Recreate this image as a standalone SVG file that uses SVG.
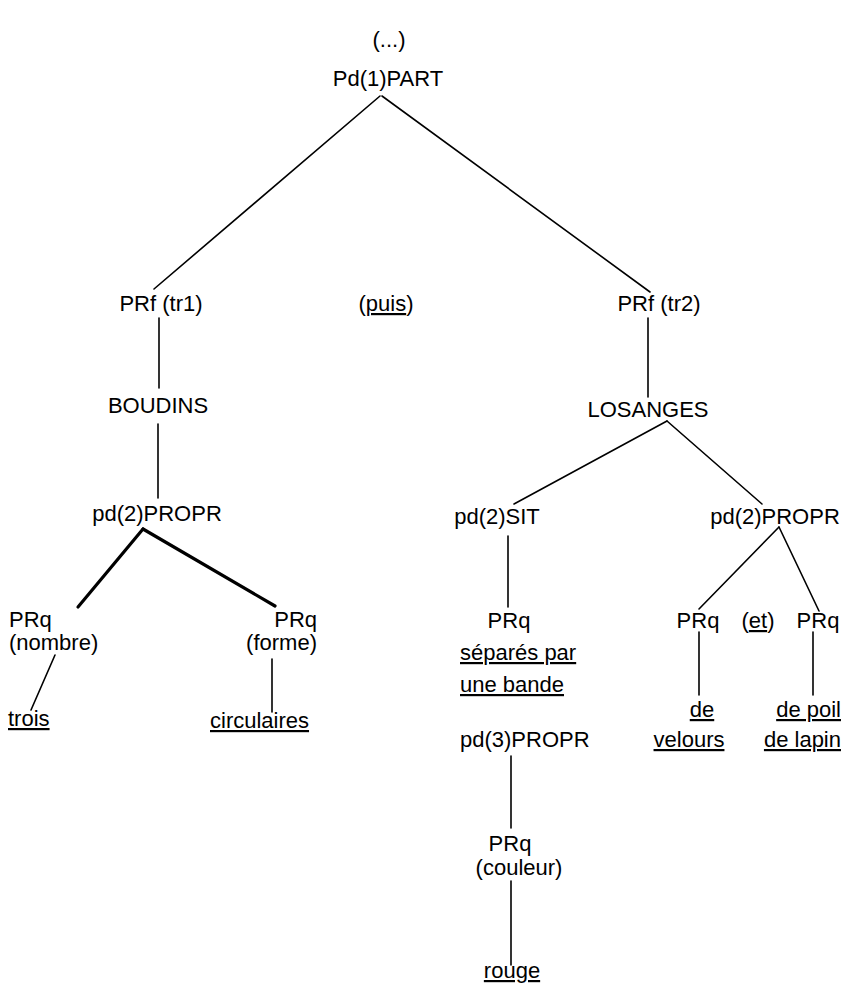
<svg xmlns="http://www.w3.org/2000/svg" width="843" height="985" viewBox="0 0 843 985">
<style>
text{font-family:"Liberation Sans",Arial,sans-serif;font-size:22px;fill:#000}
.m{text-anchor:middle}
.e{text-anchor:end}
.u{text-decoration:underline}
.c line{stroke:#000;stroke-width:1.6;stroke-linecap:round}
.c line.b{stroke-width:3.2}
</style>
<rect width="843" height="985" fill="#fff"/>
<g class="c" id="connectors">
<line x1="380" y1="96" x2="154" y2="289"/>
<line x1="382" y1="96" x2="650" y2="292"/>
<line x1="159" y1="318" x2="159" y2="388"/>
<line x1="158" y1="424" x2="158" y2="498"/>
<line class="b" x1="143" y1="529" x2="78" y2="607"/>
<line class="b" x1="143" y1="529" x2="275" y2="606"/>
<line x1="55" y1="655" x2="31" y2="710"/>
<line x1="272" y1="659" x2="272" y2="712"/>
<line x1="648" y1="318" x2="648" y2="397"/>
<line x1="667" y1="421" x2="514" y2="504"/>
<line x1="667" y1="421" x2="762" y2="504"/>
<line x1="508" y1="536" x2="508" y2="607"/>
<line x1="779" y1="527" x2="699" y2="609"/>
<line x1="779" y1="527" x2="819" y2="611"/>
<line x1="699" y1="632" x2="699" y2="695"/>
<line x1="813" y1="632" x2="813" y2="695"/>
<line x1="511" y1="756" x2="511" y2="828"/>
<line x1="511" y1="881" x2="511" y2="965"/>
</g>
<g id="ellipsis"><text class="m" x="389" y="47">(...)</text></g>
<g id="pd1part"><text class="m" x="388" y="86">Pd(1)PART</text></g>
<g id="prf-tr1"><text class="m" x="161" y="311">PRf (tr1)</text></g>
<g id="puis"><text class="m" x="386" y="311">(<tspan class="u">puis</tspan>)</text></g>
<g id="prf-tr2"><text class="m" x="659" y="311">PRf (tr2)</text></g>
<g id="boudins"><text class="m" x="158" y="413">BOUDINS</text></g>
<g id="losanges"><text class="m" x="648" y="417">LOSANGES</text></g>
<g id="pd2propr-l"><text class="m" x="157" y="521">pd(2)PROPR</text></g>
<g id="pd2sit"><text class="m" x="497" y="524">pd(2)SIT</text></g>
<g id="pd2propr-r"><text class="m" x="775" y="524">pd(2)PROPR</text></g>
<g id="prq-nombre"><text x="9" y="627">PRq</text><text x="9" y="650">(nombre)</text></g>
<g id="prq-forme"><text class="e" x="317" y="627">PRq</text><text class="e" x="317" y="650">(forme)</text></g>
<g id="trois"><text class="u" x="8" y="726">trois</text></g>
<g id="circulaires"><text class="u" x="210" y="728">circulaires</text></g>
<g id="prq-sit"><text class="m" x="509" y="628">PRq</text></g>
<g id="separes"><text class="u" x="460" y="660">séparés par</text><text class="u" x="460" y="692">une bande</text></g>
<g id="pd3propr"><text x="460" y="747">pd(3)PROPR</text></g>
<g id="prq-couleur"><text class="m" x="510" y="851">PRq</text><text class="m" x="519" y="875">(couleur)</text></g>
<g id="rouge"><text class="u m" x="512" y="978">rouge</text></g>
<g id="prq-velours"><text class="m" x="698" y="628">PRq</text></g>
<g id="et"><text class="m" x="758" y="628">(<tspan class="u">et</tspan>)</text></g>
<g id="prq-lapin"><text class="m" x="818" y="628">PRq</text></g>
<g id="de-velours"><text class="u m" x="702" y="717">de</text><text class="u m" x="689" y="747">velours</text></g>
<g id="de-poil"><text class="u e" x="841" y="717">de poil</text><text class="u e" x="841" y="747">de lapin</text></g>
</svg>
